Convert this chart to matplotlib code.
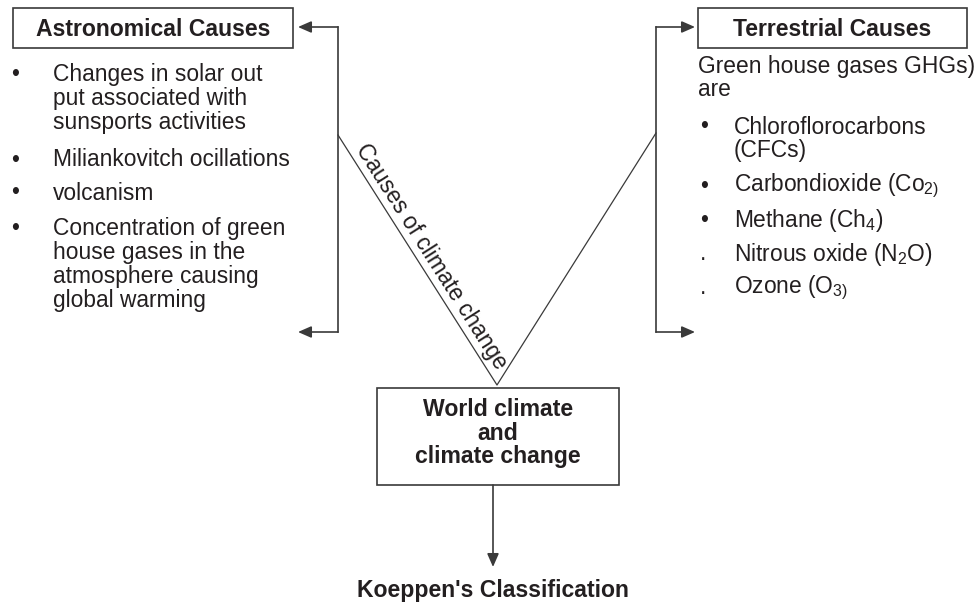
import matplotlib.pyplot as plt
from matplotlib.patches import Rectangle

plt.rcParams['font.family'] = ['Liberation Sans', 'DejaVu Sans']
plt.rcParams['mathtext.fontset'] = 'custom'
plt.rcParams['mathtext.rm'] = 'Liberation Sans'
plt.rcParams['mathtext.it'] = 'Liberation Sans'

INK = '#231f20'
LINE = '#3a3a3a'

# --- diagram text ---
left_title = "Astronomical Causes"
right_title = "Terrestrial Causes"
centre_lines = ["World climate", "and", "climate change"]
bottom_label = "Koeppen's Classification"
diag_label = "Causes of climate change"

# (bullet, text, y)
left_items = [
    ("•", "Changes in solar out", 75),
    ("", "put associated with", 99),
    ("", "sunsports activities", 123),
    ("•", "Miliankovitch ocillations", 160),
    ("•", "volcanism", 193),
    ("•", "Concentration of green", 229),
    ("", "house gases in the", 253),
    ("", "atmosphere causing", 277),
    ("", "global warming", 301),
]
right_intro = [("Green house gases GHGs)", 66), ("are", 89)]
right_items = [
    ("•", "Chloroflorocarbons", 127),
    ("", "(CFCs)", 151),
    ("•", "Carbondioxide (Co$_{2)}$", 186),
    ("•", "Methane (Ch$_{4}$)", 220),
    (".", "Nitrous oxide (N$_{2}$O)", 254),
    (".", "Ozone (O$_{3)}$", 288),
]

fig = plt.figure(figsize=(9.79, 6.04), dpi=100)
ax = fig.add_axes([0, 0, 1, 1])
ax.set_xlim(0, 979)
ax.set_ylim(604, 0)
ax.axis('off')

fs = 16.4
fs_b = 16.6

def box(x0, y0, x1, y1):
    ax.add_patch(Rectangle((x0, y0), x1 - x0, y1 - y0, fill=False,
                           edgecolor=LINE, linewidth=1.2))

def arrow(x0, y0, x1, y1):
    ax.annotate("", xy=(x1, y1), xytext=(x0, y0),
                arrowprops=dict(arrowstyle='-|>,head_length=0.8,head_width=0.35',
                                color=LINE, lw=1.2, shrinkA=0, shrinkB=0))

# title boxes
box(13, 8, 293, 48)
ax.text(153, 29, left_title, ha='center', va='center', fontsize=fs_b,
        fontweight='bold', color=INK)
box(698, 8, 967, 48)
ax.text(832, 29, right_title, ha='center', va='center', fontsize=fs_b,
        fontweight='bold', color=INK)

# left bracket
ax.plot([338, 338], [27, 332], color=LINE, lw=1.2)
arrow(338, 27, 298, 27)
arrow(338, 332, 298, 332)

# right bracket
ax.plot([656, 656], [27, 332], color=LINE, lw=1.2)
arrow(656, 27, 695, 27)
arrow(656, 332, 695, 332)

# V shape
ax.plot([338, 497, 656], [135, 385, 133], color=LINE, lw=0.9)
ax.text(431, 257, diag_label, rotation=-57.5, rotation_mode='anchor',
        ha='center', va='center', fontsize=fs, color=INK)

# centre box
box(377, 388, 619, 485)
for i, s in enumerate(centre_lines):
    ax.text(498, 410 + i * 23.5, s, ha='center', va='center', fontsize=fs_b,
            fontweight='bold', color=INK)

arrow(493, 485, 493, 567)
ax.text(493, 590, bottom_label, ha='center', va='center', fontsize=fs_b,
        fontweight='bold', color=INK)

# left list
for b, s, y in left_items:
    if b:
        ax.text(11, y, b, ha='left', va='center', fontsize=fs, color=INK)
    ax.text(53, y, s, ha='left', va='center', fontsize=fs, color=INK)

# right list
for s, y in right_intro:
    ax.text(698, y, s, ha='left', va='center', fontsize=fs, color=INK)
for b, s, y in right_items:
    if b:
        ax.text(700, y, b, ha='left', va='center', fontsize=fs, color=INK)
    ax.text(734, y, s, ha='left', va='center', fontsize=fs, color=INK)

fig.savefig("out.png", dpi=100)
